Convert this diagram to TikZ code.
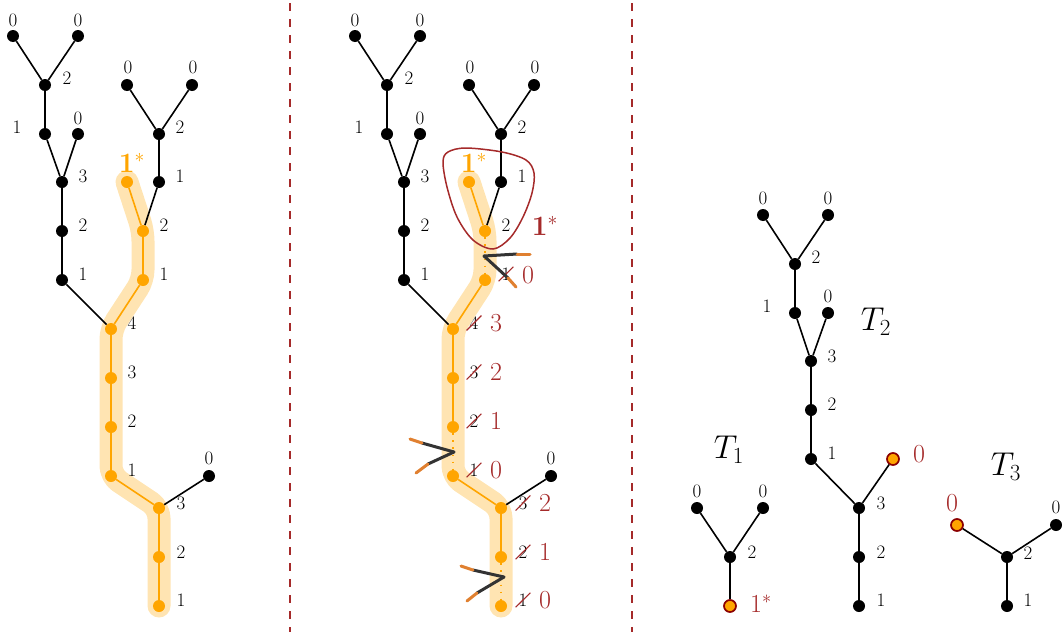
\documentclass[tikz,border=0pt]{standalone}
\usepackage{fix-cm}
\usetikzlibrary{backgrounds,shapes.misc}
\definecolor{cutred}{HTML}{A52A2A}
\definecolor{rimred}{HTML}{8B0000}
\definecolor{hotorange}{HTML}{FFA500}
\definecolor{gripcol}{HTML}{E08030}
\tikzset{
    dot/.style={circle, fill=black, inner sep=0pt, minimum size=12pt},
    hot/.style={dot, fill=hotorange},
    ringed/.style={hot, draw=rimred, line width=1.7pt, minimum size=12pt},
    num/.style={inner sep=0pt, font=\fontsize{19}{19}\selectfont},
    cutnum/.style={num, strike out, draw=cutred, line width=1.1pt, inner xsep=2.5pt, inner ysep=0.5pt},
    rednum/.style={inner sep=0pt, text=cutred, font=\fontsize{26}{26}\selectfont},
    starnum/.style={inner sep=0pt, text=hotorange, font=\fontsize{28}{28}\selectfont},
    bignum/.style={inner sep=0pt, font=\fontsize{33}{33}\selectfont},
    stem/.style={line width=1.6pt},
    hotstem/.style={stem, hotorange},
    cutstem/.style={hotorange, line width=1.6pt, dash pattern=on 1.6pt off 5.5pt},
    band/.style={line width=23pt, hotorange!30, line cap=round, line join=round, rounded corners=10pt},
    sep/.style={cutred, line width=1.5pt, dash pattern=on 8pt off 8pt, dash phase=13pt},
    blade/.style={line width=3pt, black!80, line cap=round},
    grip/.style={line width=3pt, gripcol, line cap=round},
}
% one cut mark: pivot, then for each arm the end of the blade and the end of the grip
\newcommand{\snip}[5]{
    \draw[blade] (#1) -- (#2);
    \draw[blade] (#1) -- (#4);
    \draw[grip] (#2) -- (#3);
    \draw[grip] (#4) -- (#5);
}
\begin{document}
\begin{tikzpicture}[x=1pt, y=-1pt]
    \useasboundingbox (0,0) rectangle (1062,632);

    \coordinate (sepa) at (290,0);
    \coordinate (sepb) at (290,632);
    \coordinate (sepc) at (632,0);
    \coordinate (sepd) at (632,632);
    \draw[sep] (sepa) -- (sepb);
    \draw[sep] (sepc) -- (sepd);

    % the two big trees, same shape in both panels
    \foreach \p/\dx in {a/0, b/342} {
    \begin{scope}[xshift=\dx]
        \foreach \n/\x/\y in {la/13/36, lb/78/36, lc/45/85, ld/45/134, le/78/134, lf/62/182,
                lg/62/231, lh/62/280, ra/127/85, rb/192/85, rc/159/134, rd/159/182, mf/209/476}
            \node[dot] (\p\n) at (\x,\y) {};
        \foreach \n/\x/\y in {re/127/182, rf/143/231, rg/143/280, ma/111/329, mb/111/378,
                mc/111/427, md/111/476, me/159/508, mg/159/557, mh/159/606}
            \node[hot] (\p\n) at (\x,\y) {};
        \foreach \n/\x/\y/\t in {a/13/20/0, b/78/20/0, c/67/78/2, d/17/127/1, e/78/118/0, f/83/176/3,
                g/83/225/2, h/83/274/1, i/128/67/0, j/193/67/0, k/180/127/2, l/180/176/1,
                m/164/225/2, n/209/458/0}
            \node[num] (\p t\n) at (\x,\y) {\t};
        \foreach \s/\e in {la/lc, lb/lc, lc/ld, ld/lf, le/lf, lf/lg, lg/lh, lh/ma, ra/rc, rb/rc,
                rc/rd, rd/rf, me/mf}
            \draw[stem] (\p\s) -- (\p\e);
        \foreach \s/\e in {re/rf, rg/ma, ma/mb, mb/mc, md/me, me/mg}
            \draw[hotstem] (\p\s) -- (\p\e);
        \begin{scope}[on background layer]
            \draw[band] (\p re.center) -- (\p rf.center) -- (\p rg.center) -- (\p ma.center)
                -- (\p md.center) -- (\p me.center) -- (\p mh.center);
        \end{scope}
    \end{scope}
    }

    % left panel
    \node[starnum] (astar) at (132,163) {$\mathbf{1}^*$};
    \foreach \n/\x/\y/\t in {a/164/274/1, b/132/323/4, c/132/372/3, d/132/421/2, e/132/470/1,
            f/181/503/3, g/181/552/2, h/181/600/1}
        \node[num] (an\n) at (\x,\y) {\t};
    \foreach \s/\e in {rf/rg, mc/md, mg/mh}
        \draw[hotstem] (a\s) -- (a\e);

    % middle panel
    \node[starnum] (bstar) at (474,163) {$\mathbf{1}^*$};
    \foreach \n/\x/\y/\t in {a/506/274/1, b/474/323/4, c/474/372/3, d/474/421/2, e/474/470/1,
            f/523/503/3, g/523/552/2, h/523/600/1}
        \node[cutnum] (bn\n) at (\x,\y) {\t};
    \foreach \n/\x/\y/\t in {a/528/275/0, b/496/323/3, c/496/372/2, d/496/421/1, e/496/470/0,
            f/545/503/2, g/545/552/1, h/545/600/0}
        \node[rednum] (bw\n) at (\x,\y) {\t};
    \foreach \s/\e in {rf/rg, mc/md, mg/mh}
        \draw[cutstem] (b\s) -- (b\e);
    \draw[cutred, line width=1.5pt] plot[smooth cycle, tension=0.55] coordinates {(443,162) (448,152)
        (466,148) (502,152) (526,160) (534,173) (532,193) (523,217) (510,238) (493,249) (473,240) (457,217) (447,187)};
    \node[starnum, text=cutred] (bcut) at (545,226) {$\mathbf{1}^*$};

    \coordinate (sna) at (484,256);
    \coordinate (snb) at (517,254);
    \coordinate (snc) at (530,254);
    \coordinate (snd) at (508,278);
    \coordinate (sne) at (516,287);
    \snip{sna}{snb}{snc}{snd}{sne}
    \coordinate (sng) at (454,452);
    \coordinate (snh) at (422,443);
    \coordinate (sni) at (410,439);
    \coordinate (snj) at (428,464);
    \coordinate (snk) at (416,473);
    \snip{sng}{snh}{sni}{snj}{snk}
    \coordinate (snl) at (504,577);
    \coordinate (snm) at (473,570);
    \coordinate (snn) at (461,566);
    \coordinate (sno) at (477,593);
    \coordinate (snp) at (467,601);
    \snip{snl}{snm}{snn}{sno}{snp}

    % T1
    \node[dot] (oa) at (697,508) {};
    \node[dot] (ob) at (763,508) {};
    \node[dot] (oc) at (730,557) {};
    \node[ringed] (od) at (730,606) {};
    \draw[stem] (oa) -- (oc);
    \draw[stem] (ob) -- (oc);
    \draw[stem] (oc) -- (od);
    \node[num] (ot0) at (697,491) {0};
    \node[num] (ot1) at (763,491) {0};
    \node[num] (ot2) at (752,552) {2};
    \node[rednum] (ot3) at (761,604) {$1^*$};
    \node[bignum] (oname) at (729,450) {$T_1$};

    % T2
    \node[dot] (wa) at (763,215) {};
    \node[dot] (wb) at (828,215) {};
    \node[dot] (wc) at (795,264) {};
    \node[dot] (wd) at (795,313) {};
    \node[dot] (we) at (828,313) {};
    \node[dot] (wf) at (811,361) {};
    \node[dot] (wg) at (811,410) {};
    \node[dot] (wh) at (811,459) {};
    \node[dot] (wi) at (859,508) {};
    \node[ringed] (wj) at (893,459) {};
    \node[dot] (wk) at (859,557) {};
    \node[dot] (wl) at (859,606) {};
    \foreach \s/\e in {wa/wc, wb/wc, wc/wd, wd/wf, we/wf, wf/wg, wg/wh, wh/wi, wj/wi, wi/wk, wk/wl}
        \draw[stem] (\s) -- (\e);
    \foreach \n/\x/\y/\t in {a/763/198/0, b/828/198/0, c/816/257/2, d/767/306/1, e/828/296/0,
            f/832/356/3, g/832/404/2, h/832/453/1, i/881/503/3, j/881/552/2, k/881/600/1}
        \node[num] (wt\n) at (\x,\y) {\t};
    \node[rednum] (wtl) at (919,454) {0};
    \node[bignum] (wname) at (876,322) {$T_2$};

    % T3
    \node[ringed] (ha) at (957,525) {};
    \node[dot] (hb) at (1056,525) {};
    \node[dot] (hc) at (1007,557) {};
    \node[dot] (hd) at (1007,606) {};
    \draw[stem] (ha) -- (hc);
    \draw[stem] (hb) -- (hc);
    \draw[stem] (hc) -- (hd);
    \node[rednum] (ht0) at (952,503) {0};
    \node[num] (ht1) at (1056,507) {0};
    \node[num] (ht2) at (1028,553) {2};
    \node[num] (ht3) at (1028,600) {1};
    \node[bignum] (hname) at (1006,467) {$T_3$};
\end{tikzpicture}
\end{document}
